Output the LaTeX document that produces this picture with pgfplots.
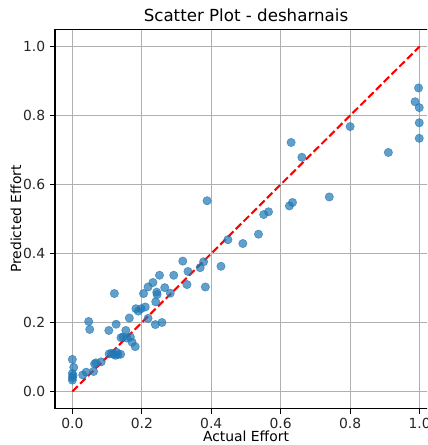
\documentclass[border=0pt]{standalone}
\usepackage{fontspec}
\setmainfont{DejaVu Sans}
\usepackage{pgfplots}
\pgfplotsset{compat=1.18}
\definecolor{mplblue}{HTML}{1F77B4}
\definecolor{gridgray}{HTML}{B0B0B0}
\begin{document}
\begin{tikzpicture}
\useasboundingbox (-39.6pt,-26.1pt) rectangle (267.84pt,294.3pt);
\clip (-39.6pt,-26.1pt) rectangle (267.84pt,294.3pt);
\begin{axis}[
  at={(0,0)}, anchor=south west,
  scale only axis, width=275pt, height=273.2pt,
  xmin=-0.05, xmax=1.05, ymin=-0.05, ymax=1.05,
  xtick={0,0.2,0.4,0.6,0.8,1.0}, ytick={0,0.2,0.4,0.6,0.8,1.0},
  xticklabel style={/pgf/number format/fixed,/pgf/number format/fixed zerofill,/pgf/number format/precision=1},
  yticklabel style={/pgf/number format/fixed,/pgf/number format/fixed zerofill,/pgf/number format/precision=1},
  /pgf/number format/assume math mode=true,
  ticklabel style={font=\fontsize{10}{12}\selectfont, text=black!85},
  tick align=outside, tick pos=left, major tick length=3.5pt,
  tick style={black, line width=0.8pt},
  axis line style={black, line width=0.8pt},
  grid=major, grid style={gridgray, line width=0.8pt},
  title={Scatter Plot - desharnais},
  title style={font=\fontsize{12}{14}\selectfont, yshift=-4pt},
  xlabel={Actual Effort}, ylabel={Predicted Effort},
  label style={font=\fontsize{10}{12}\selectfont},
  xlabel style={yshift=5.4pt}, ylabel style={yshift=-5.6pt},
  clip=false,
]
\addplot[only marks, mark=*, mark size=3pt, mark options={fill=mplblue, draw=mplblue, fill opacity=0.7, draw opacity=0.7}] coordinates {
(0.000,0.093) (0.004,0.070) (0.000,0.052) (0.002,0.046) (0.000,0.040) (0.000,0.033)
(0.030,0.048) (0.040,0.056) (0.061,0.058) (0.064,0.080) (0.068,0.083) (0.083,0.086)
(0.106,0.109) (0.113,0.111) (0.119,0.108) (0.124,0.105) (0.131,0.107) (0.139,0.108)
(0.127,0.114) (0.140,0.156) (0.146,0.158) (0.157,0.155) (0.167,0.158) (0.172,0.143)
(0.181,0.130) (0.047,0.203) (0.050,0.180) (0.105,0.177) (0.126,0.195) (0.154,0.177)
(0.164,0.213) (0.121,0.284) (0.183,0.240) (0.190,0.233) (0.198,0.240) (0.210,0.245)
(0.205,0.284) (0.218,0.303) (0.232,0.316) (0.243,0.288) (0.244,0.281) (0.240,0.260)
(0.251,0.337) (0.266,0.301) (0.282,0.285) (0.292,0.337) (0.218,0.212) (0.239,0.194)
(0.258,0.200) (0.318,0.378) (0.333,0.348) (0.330,0.310) (0.368,0.359) (0.378,0.376)
(0.383,0.303) (0.388,0.553) (0.428,0.363) (0.448,0.440) (0.491,0.429) (0.536,0.456)
(0.551,0.513) (0.565,0.521) (0.625,0.538) (0.634,0.548) (0.630,0.722) (0.661,0.679)
(0.740,0.564) (0.800,0.768) (0.910,0.693) (0.987,0.840) (0.999,0.823) (0.999,0.779)
(0.999,0.734) (0.997,0.880)
};
\addplot[red, line width=1.5pt, dash pattern=on 5.5pt off 2.4pt] coordinates {(0,0) (1,1)};
\end{axis}
\end{tikzpicture}
\end{document}
